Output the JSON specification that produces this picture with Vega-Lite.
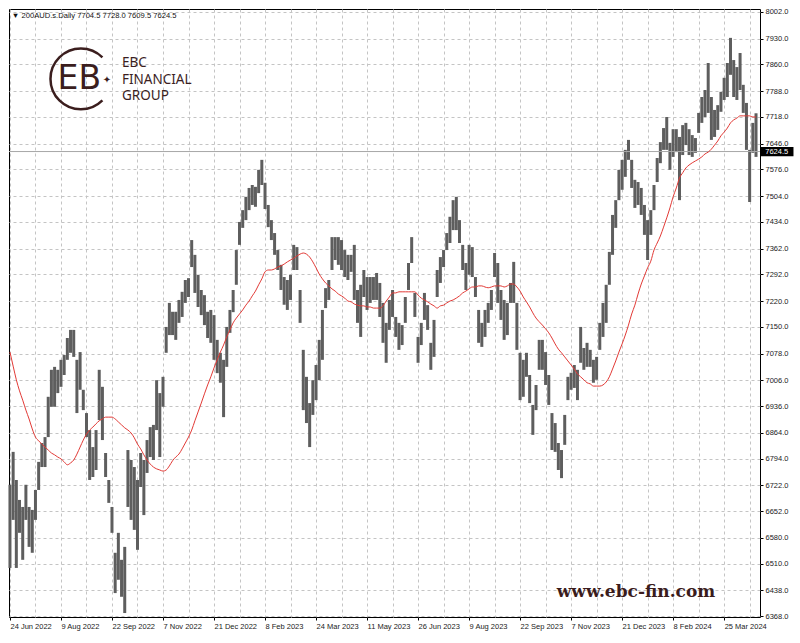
{
"$schema": "https://vega.github.io/schema/vega-lite/v6.json",
"autosize": {"type": "none"},
"width": 751, "height": 608,
"padding": {"left": 9, "top": 9, "right": 40, "bottom": 26},
"background": "white",
"config": {
"view": {"stroke": "#000000", "strokeWidth": 1},
"axis": {"labelOverlap": false, "labelBound": false, "labelFlush": false, "labelFont": "Liberation Sans", "labelFontSize": 7.5, "labelColor": "#222222", "domain": false, "tickSize": 3, "tickColor": "#000000", "grid": true, "gridColor": "#c4c4c4", "gridDash": [3, 3], "gridWidth": 1, "title": null}
},
"datasets": {
"bars": [
{"i":0,"h":6723,"l":6498,"m":7082},{"i":2,"h":6812,"l":6628,"m":7044},{"i":4,"h":6736,"l":6498,"m":7007},{"i":6,"h":6682,"l":6593,"m":6977},{"i":8,"h":6663,"l":6520,"m":6952},{"i":10,"h":6723,"l":6628,"m":6925},{"i":12,"h":6663,"l":6555,"m":6901},{"i":14,"h":6655,"l":6539,"m":6874},{"i":16,"h":6709,"l":6628,"m":6852},{"i":18,"h":6785,"l":6709,"m":6842},
{"i":20,"h":6836,"l":6771,"m":6833},{"i":22,"h":6852,"l":6771,"m":6825},{"i":24,"h":6961,"l":6852,"m":6817},{"i":26,"h":7034,"l":6934,"m":6809},{"i":28,"h":7042,"l":6934,"m":6804},{"i":30,"h":7034,"l":6971,"m":6798},{"i":32,"h":7061,"l":6988,"m":6793},{"i":34,"h":7074,"l":7020,"m":6785},{"i":36,"h":7120,"l":7061,"m":6777},{"i":38,"h":7142,"l":7080,"m":6782},
{"i":40,"h":7142,"l":7069,"m":6790},{"i":42,"h":7061,"l":6917,"m":6806},{"i":44,"h":7082,"l":6980,"m":6825},{"i":46,"h":6980,"l":6925,"m":6844},{"i":48,"h":6917,"l":6852,"m":6860},{"i":50,"h":6871,"l":6736,"m":6871},{"i":52,"h":6825,"l":6744,"m":6879},{"i":54,"h":6871,"l":6763,"m":6888},{"i":56,"h":7034,"l":6898,"m":6896},{"i":58,"h":6988,"l":6844,"m":6901},
{"i":60,"h":6809,"l":6744,"m":6906},{"i":62,"h":6736,"l":6674,"m":6906},{"i":64,"h":6663,"l":6593,"m":6906},{"i":66,"h":6539,"l":6430,"m":6901},{"i":68,"h":6593,"l":6466,"m":6893},{"i":70,"h":6520,"l":6420,"m":6885},{"i":72,"h":6555,"l":6376,"m":6877},{"i":74,"h":6817,"l":6663,"m":6871},{"i":76,"h":6790,"l":6628,"m":6863},{"i":78,"h":6771,"l":6601,"m":6850},
{"i":80,"h":6736,"l":6547,"m":6833},{"i":82,"h":6809,"l":6717,"m":6820},{"i":84,"h":6790,"l":6641,"m":6804},{"i":86,"h":6844,"l":6755,"m":6790},{"i":88,"h":6879,"l":6798,"m":6779},{"i":90,"h":6885,"l":6790,"m":6771},{"i":92,"h":7006,"l":6871,"m":6766},{"i":94,"h":6971,"l":6798,"m":6763},{"i":96,"h":7015,"l":6934,"m":6760},{"i":98,"h":7150,"l":7080,"m":6763},
{"i":100,"h":7215,"l":7128,"m":6774},{"i":102,"h":7191,"l":7128,"m":6788},{"i":104,"h":7191,"l":7115,"m":6798},{"i":106,"h":7223,"l":7161,"m":6806},{"i":108,"h":7245,"l":7177,"m":6820},{"i":110,"h":7277,"l":7215,"m":6836},{"i":112,"h":7282,"l":7231,"m":6852},{"i":114,"h":7385,"l":7312,"m":6871},{"i":116,"h":7345,"l":7242,"m":6896},{"i":118,"h":7291,"l":7204,"m":6920},
{"i":120,"h":7250,"l":7182,"m":6944},{"i":122,"h":7236,"l":7155,"m":6969},{"i":124,"h":7191,"l":7120,"m":6993},{"i":126,"h":7196,"l":7107,"m":7015},{"i":128,"h":7182,"l":7061,"m":7039},{"i":130,"h":7115,"l":7025,"m":7061},{"i":132,"h":7080,"l":6999,"m":7082},{"i":134,"h":7061,"l":6906,"m":7101},{"i":136,"h":7150,"l":7042,"m":7123},{"i":138,"h":7196,"l":7134,"m":7142},
{"i":140,"h":7250,"l":7190,"m":7161},{"i":142,"h":7358,"l":7264,"m":7174},{"i":144,"h":7434,"l":7372,"m":7185},{"i":146,"h":7466,"l":7418,"m":7196},{"i":148,"h":7502,"l":7439,"m":7209},{"i":150,"h":7526,"l":7466,"m":7220},{"i":152,"h":7534,"l":7480,"m":7234},{"i":154,"h":7529,"l":7475,"m":7247},{"i":156,"h":7575,"l":7512,"m":7264},{"i":158,"h":7602,"l":7534,"m":7280},
{"i":160,"h":7540,"l":7469,"m":7299},{"i":162,"h":7480,"l":7420,"m":7304},{"i":164,"h":7439,"l":7385,"m":7304},{"i":166,"h":7404,"l":7345,"m":7307},{"i":168,"h":7358,"l":7304,"m":7312},{"i":170,"h":7318,"l":7250,"m":7315},{"i":172,"h":7285,"l":7210,"m":7320},{"i":174,"h":7277,"l":7196,"m":7326},{"i":176,"h":7291,"l":7223,"m":7331},{"i":178,"h":7372,"l":7304,"m":7336},
{"i":180,"h":7366,"l":7304,"m":7342},{"i":182,"h":7250,"l":7161,"m":7347},{"i":184,"h":7088,"l":6925,"m":7350},{"i":186,"h":7015,"l":6890,"m":7347},{"i":188,"h":6944,"l":6825,"m":7339},{"i":190,"h":7006,"l":6912,"m":7326},{"i":192,"h":7047,"l":6952,"m":7310},{"i":194,"h":7115,"l":7006,"m":7293},{"i":196,"h":7196,"l":7061,"m":7280},{"i":198,"h":7255,"l":7201,"m":7269},
{"i":200,"h":7277,"l":7223,"m":7261},{"i":202,"h":7393,"l":7304,"m":7253},{"i":204,"h":7393,"l":7331,"m":7247},{"i":206,"h":7393,"l":7318,"m":7239},{"i":208,"h":7385,"l":7304,"m":7234},{"i":210,"h":7358,"l":7285,"m":7228},{"i":212,"h":7345,"l":7277,"m":7220},{"i":214,"h":7345,"l":7299,"m":7218},{"i":216,"h":7372,"l":7223,"m":7212},{"i":218,"h":7250,"l":7161,"m":7209},
{"i":220,"h":7264,"l":7123,"m":7207},{"i":222,"h":7304,"l":7231,"m":7207},{"i":224,"h":7285,"l":7196,"m":7204},{"i":226,"h":7285,"l":7215,"m":7204},{"i":228,"h":7285,"l":7223,"m":7201},{"i":230,"h":7296,"l":7223,"m":7201},{"i":232,"h":7269,"l":7177,"m":7201},{"i":234,"h":7215,"l":7107,"m":7207},{"i":236,"h":7161,"l":7053,"m":7220},{"i":238,"h":7223,"l":7142,"m":7231},
{"i":240,"h":7250,"l":7177,"m":7242},{"i":242,"h":7177,"l":7123,"m":7242},{"i":244,"h":7161,"l":7088,"m":7245},{"i":246,"h":7155,"l":7101,"m":7245},{"i":248,"h":7231,"l":7161,"m":7245},{"i":250,"h":7323,"l":7250,"m":7245},{"i":252,"h":7393,"l":7323,"m":7245},{"i":254,"h":7242,"l":7177,"m":7245},{"i":256,"h":7123,"l":7053,"m":7236},{"i":258,"h":7161,"l":7101,"m":7228},
{"i":260,"h":7242,"l":7169,"m":7223},{"i":262,"h":7209,"l":7142,"m":7218},{"i":264,"h":7107,"l":7034,"m":7212},{"i":266,"h":7169,"l":7069,"m":7207},{"i":268,"h":7304,"l":7231,"m":7201},{"i":270,"h":7339,"l":7269,"m":7207},{"i":272,"h":7358,"l":7312,"m":7209},{"i":274,"h":7404,"l":7358,"m":7215},{"i":276,"h":7448,"l":7377,"m":7220},{"i":278,"h":7493,"l":7412,"m":7223},
{"i":280,"h":7502,"l":7412,"m":7228},{"i":282,"h":7439,"l":7377,"m":7234},{"i":284,"h":7372,"l":7304,"m":7242},{"i":286,"h":7323,"l":7250,"m":7247},{"i":288,"h":7372,"l":7291,"m":7253},{"i":290,"h":7366,"l":7285,"m":7258},{"i":292,"h":7285,"l":7231,"m":7258},{"i":294,"h":7196,"l":7107,"m":7261},{"i":296,"h":7161,"l":7096,"m":7261},{"i":298,"h":7196,"l":7123,"m":7258},
{"i":300,"h":7215,"l":7161,"m":7256},{"i":302,"h":7250,"l":7196,"m":7258},{"i":304,"h":7350,"l":7285,"m":7261},{"i":306,"h":7323,"l":7215,"m":7261},{"i":308,"h":7250,"l":7169,"m":7261},{"i":310,"h":7223,"l":7115,"m":7258},{"i":312,"h":7215,"l":7128,"m":7261},{"i":314,"h":7269,"l":7215,"m":7266},{"i":316,"h":7326,"l":7215,"m":7266},{"i":318,"h":7215,"l":7088,"m":7258},
{"i":320,"h":7080,"l":6952,"m":7247},{"i":322,"h":7061,"l":6961,"m":7231},{"i":324,"h":7080,"l":7015,"m":7218},{"i":326,"h":7020,"l":6944,"m":7204},{"i":328,"h":6939,"l":6858,"m":7188},{"i":330,"h":6993,"l":6925,"m":7174},{"i":332,"h":7115,"l":7034,"m":7164},{"i":334,"h":7115,"l":7034,"m":7155},{"i":336,"h":7082,"l":6993,"m":7145},{"i":338,"h":7020,"l":6939,"m":7134},
{"i":340,"h":6917,"l":6817,"m":7120},{"i":342,"h":6890,"l":6812,"m":7104},{"i":344,"h":6836,"l":6763,"m":7090},{"i":346,"h":6817,"l":6741,"m":7080},{"i":348,"h":6912,"l":6831,"m":7069},{"i":350,"h":7015,"l":6952,"m":7058},{"i":352,"h":7026,"l":6980,"m":7047},{"i":354,"h":7047,"l":6985,"m":7036},{"i":356,"h":7034,"l":6952,"m":7023},{"i":358,"h":7150,"l":7053,"m":7015},
{"i":360,"h":7093,"l":7034,"m":7007},{"i":362,"h":7107,"l":7042,"m":6999},{"i":364,"h":7088,"l":7042,"m":6996},{"i":366,"h":7061,"l":6999,"m":6990},{"i":368,"h":7069,"l":7007,"m":6990},{"i":370,"h":7161,"l":7088,"m":6990},{"i":372,"h":7215,"l":7123,"m":6993},{"i":374,"h":7264,"l":7161,"m":7001},{"i":376,"h":7353,"l":7264,"m":7015},{"i":378,"h":7453,"l":7345,"m":7036},
{"i":380,"h":7493,"l":7418,"m":7058},{"i":382,"h":7575,"l":7493,"m":7082},{"i":384,"h":7602,"l":7521,"m":7104},{"i":386,"h":7629,"l":7556,"m":7128},{"i":388,"h":7656,"l":7602,"m":7155},{"i":390,"h":7602,"l":7526,"m":7185},{"i":392,"h":7548,"l":7472,"m":7209},{"i":394,"h":7542,"l":7480,"m":7239},{"i":396,"h":7526,"l":7453,"m":7266},{"i":398,"h":7480,"l":7399,"m":7288},
{"i":400,"h":7439,"l":7331,"m":7310},{"i":402,"h":7466,"l":7399,"m":7328},{"i":404,"h":7534,"l":7466,"m":7358},{"i":406,"h":7607,"l":7542,"m":7377},{"i":408,"h":7650,"l":7593,"m":7396},{"i":410,"h":7688,"l":7629,"m":7420},{"i":412,"h":7718,"l":7629,"m":7445},{"i":414,"h":7648,"l":7575,"m":7472},{"i":416,"h":7685,"l":7610,"m":7502},{"i":418,"h":7685,"l":7623,"m":7526},
{"i":420,"h":7664,"l":7493,"m":7553},{"i":422,"h":7696,"l":7615,"m":7567},{"i":424,"h":7702,"l":7642,"m":7580},{"i":426,"h":7685,"l":7615,"m":7588},{"i":428,"h":7669,"l":7610,"m":7594},{"i":430,"h":7661,"l":7621,"m":7599},{"i":432,"h":7729,"l":7675,"m":7604},{"i":434,"h":7772,"l":7702,"m":7610},{"i":436,"h":7791,"l":7718,"m":7618},{"i":438,"h":7864,"l":7729,"m":7623},
{"i":440,"h":7772,"l":7656,"m":7631},{"i":442,"h":7737,"l":7664,"m":7642},{"i":444,"h":7750,"l":7683,"m":7653},{"i":446,"h":7786,"l":7732,"m":7667},{"i":448,"h":7824,"l":7764,"m":7677},{"i":450,"h":7864,"l":7772,"m":7688},{"i":452,"h":7932,"l":7832,"m":7702},{"i":454,"h":7872,"l":7772,"m":7710},{"i":456,"h":7853,"l":7764,"m":7715},{"i":458,"h":7891,"l":7791,"m":7721},
{"i":460,"h":7805,"l":7729,"m":7721},{"i":462,"h":7756,"l":7629,"m":7721},{"i":464,"h":7629,"l":7488,"m":7721},{"i":466,"h":7702,"l":7621,"m":7718},{"i":468,"h":7728,"l":7610,"m":7718}
]
},
"layer": [
{
"data": {"name": "bars"},
"mark": {"type": "rule", "color": "#5e5e5e", "strokeWidth": 3},
"encoding": {
"x": {"field": "i", "type": "quantitative",
"scale": {"domain": [-0.6, 470.5], "nice": false, "zero": false},
"axis": {"title": null, "tickCount": 200, "values": [0,16,32,48,64,80,96,112,128,144,160,176,192,208,224,240,256,272,288,304,320,336,352,368,384,400,416,432,448,464],
"labelExpr": "datum.value % 32 === 0 ? ['24 Jun 2022','9 Aug 2022','22 Sep 2022','7 Nov 2022','21 Dec 2022','8 Feb 2023','24 Mar 2023','11 May 2023','26 Jun 2023','9 Aug 2023','22 Sep 2023','7 Nov 2023','21 Dec 2023','8 Feb 2024','25 Mar 2024'][datum.value / 32] : ''",
"labelAlign": "left", "labelBaseline": "top", "labelPadding": 2, "labelOverlap": false,
"tickOpacity": {"condition": {"test": "datum.value % 32 === 0", "value": 1}, "value": 0}}},
"y": {"field": "l", "type": "quantitative",
"scale": {"domain": [6365.3, 8010.1], "nice": false, "zero": false},
"axis": {"title": null, "orient": "right", "tickCount": 200,
"values": [6368,6438,6510,6580,6652,6722,6794,6864,6936,7006,7078,7150,7220,7292,7362,7434,7504,7576,7646,7718,7788,7860,7930,8002],
"format": ".1f", "labelPadding": 2, "labelOverlap": false, "labelBaseline": "middle"}},
"y2": {"field": "h"}
}
},
{
"data": {"values": [{"p": 7624.5}]},
"mark": {"type": "rule", "color": "#a8a8a8", "strokeWidth": 1},
"encoding": {
"y": {"field": "p", "type": "quantitative"}
}
},
{
"data": {"name": "bars"},
"mark": {"type": "line", "color": "#e23a36", "strokeWidth": 1, "interpolate": "monotone"},
"encoding": {
"x": {"field": "i", "type": "quantitative"},
"y": {"field": "m", "type": "quantitative"}
}
},
{
"data": {"values": [{"a": 470.5, "b": 491.5, "lo": 7612, "hi": 7637}]},
"mark": {"type": "rect", "color": "#000000", "clip": false},
"encoding": {
"x": {"field": "a", "type": "quantitative"},
"x2": {"field": "b"},
"y": {"field": "lo", "type": "quantitative"},
"y2": {"field": "hi"}
}
},
{
"data": {"values": [{"t": "7624.5", "x": 481, "y": 7624.5}]},
"mark": {"type": "text", "color": "#ffffff", "font": "Liberation Sans", "fontSize": 7.5, "align": "center", "baseline": "middle", "clip": false},
"encoding": {
"x": {"field": "x", "type": "quantitative"},
"y": {"field": "y", "type": "quantitative"},
"text": {"field": "t"}
}
},
{
"data": {"values": [{"t": "▼ 200AUD.s.Daily  7704.5 7728.0 7609.5 7624.5", "x": 1.2, "y": 7992}]},
"mark": {"type": "text", "color": "#111111", "font": "Liberation Sans", "fontSize": 7.6, "align": "left", "baseline": "middle"},
"encoding": {
"x": {"field": "x", "type": "quantitative"},
"y": {"field": "y", "type": "quantitative"},
"text": {"field": "t"}
}
},
{
"data": {"values": [{"x": 44.5, "y": 7821}]},
"mark": {"type": "point", "shape": "M0.707,-0.707 A1,1 0 1,0 0.707,0.707", "size": 3700, "filled": false, "stroke": "#3b1e1e", "strokeWidth": 2.5, "opacity": 1},
"encoding": {
"x": {"field": "x", "type": "quantitative"},
"y": {"field": "y", "type": "quantitative"}
}
},
{
"data": {"values": [
{"t": "EB", "x": 43.5, "y": 7821, "s": 33},
{"t": "✦", "x": 60.9, "y": 7818, "s": 10}
]},
"mark": {"type": "text", "color": "#3b1e1e", "align": "center", "baseline": "middle", "font": "DejaVu Sans"},
"encoding": {
"x": {"field": "x", "type": "quantitative"},
"y": {"field": "y", "type": "quantitative"},
"text": {"field": "t"},
"size": {"field": "s", "type": "quantitative", "scale": null}
}
},
{
"data": {"values": [
{"t": "EBC", "x": 70.3, "y": 7864, "w": "bold"},
{"t": "FINANCIAL", "x": 70.3, "y": 7819, "w": "normal"},
{"t": "GROUP", "x": 70.3, "y": 7774, "w": "normal"}
]},
"mark": {"type": "text", "color": "#3b1e1e", "align": "left", "baseline": "middle", "font": "Noto Sans", "fontSize": 13.5},
"encoding": {
"x": {"field": "x", "type": "quantitative"},
"y": {"field": "y", "type": "quantitative"},
"text": {"field": "t"},
"fontWeight": {"field": "w", "type": "nominal", "scale": null, "legend": null}
}
},
{
"data": {"values": [{"t": "www.ebc-fin.com", "x": 392.7, "y": 6433}]},
"mark": {"type": "text", "color": "#3a1c1c", "align": "center", "baseline": "middle", "font": "DejaVu Serif", "fontSize": 17, "fontWeight": "bold"},
"encoding": {
"x": {"field": "x", "type": "quantitative"},
"y": {"field": "y", "type": "quantitative"},
"text": {"field": "t"}
}
}
]
}
